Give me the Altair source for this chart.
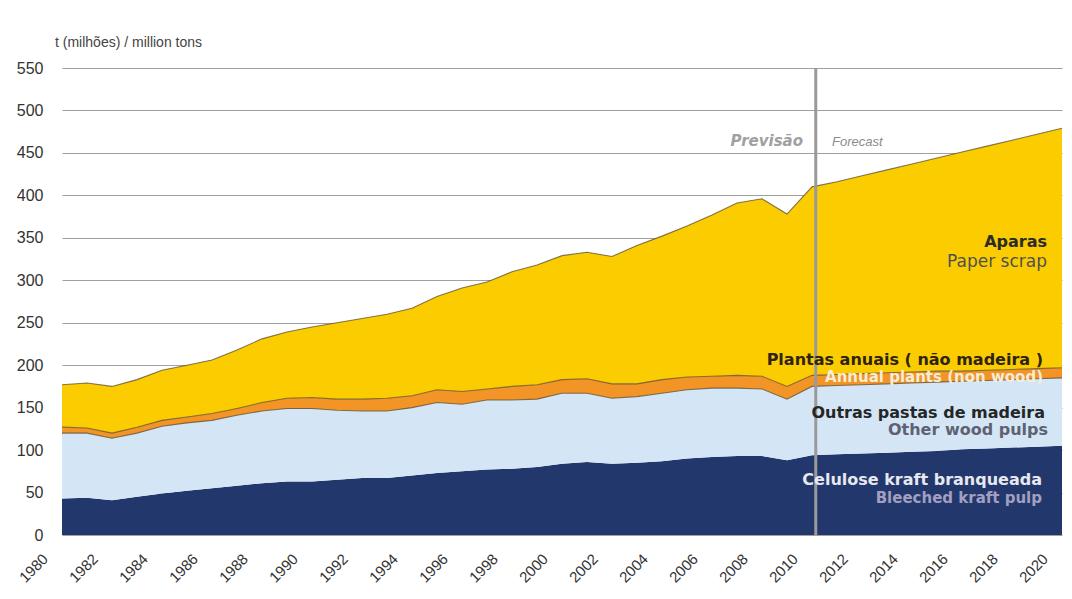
import altair as alt
import pandas as pd

years = list(range(1980, 2021))
# layer values (million tons)
kraft = [43, 44, 41, 45, 49, 52, 55, 58, 61, 63,
         63, 65, 67, 67, 70, 73, 75, 77, 78, 80,
         84, 86, 84, 85, 87, 90, 92, 93, 93, 88,
         94, 95, 96, 97, 98, 99, 101, 102, 103, 104, 105]
other = [77, 76, 73, 75, 79, 80, 80, 83, 85, 86,
         86, 82, 79, 79, 80, 83, 79, 82, 81, 80,
         83, 81, 77, 78, 80, 81, 81, 80, 79, 72,
         81, 81, 81, 81, 81, 81, 80, 80, 80, 80, 80]
annual = [7, 6, 6, 7, 7, 7, 8, 8, 10, 12,
          13, 13, 14, 15, 14, 15, 15, 13, 16, 17,
          16, 17, 17, 15, 16, 15, 14, 15, 15, 15,
          13, 13, 13, 13, 13, 13, 12, 12, 12, 12, 12]
scrap = [50, 53, 55, 56, 59, 61, 63, 69, 75, 78,
         83, 90, 95, 99, 103, 110, 122, 126, 135, 141,
         146, 149, 150, 163, 169, 178, 190, 203, 209, 203,
         222, 227, 233, 239, 245, 251, 258, 264, 270, 276, 282]

layers = ["Celulose kraft branqueada", "Outras pastas de madeira",
          "Plantas anuais", "Aparas"]
colors = ["#22386c", "#d4e6f6", "#f29426", "#fbcc00"]
series = [kraft, other, annual, scrap]

y_ticks = list(range(0, 551, 50))
x_ticks = list(range(1980, 2021, 2))
forecast_start = [2010.15]

rows = []
for i, yr in enumerate(years):
    base = 0
    for k, (name, vals) in enumerate(zip(layers, series)):
        rows.append(dict(year=yr, layer=name, order=k, lo=base, hi=base + vals[i]))
        base += vals[i]
df = pd.DataFrame(rows)

FONT = "Liberation Sans"
LFONT = "DejaVu Sans"

xscale = alt.Scale(domain=[1980, 2020], nice=False, zero=False)
yscale = alt.Scale(domain=[0, 550], nice=False)

x_axis = alt.Axis(values=x_ticks, format="d", labelAngle=-45, labelAlign="right",
                  labelBaseline="top", labelPadding=16, labelOffset=-22,
                  labelFontSize=15, labelColor="#333", labelFont=FONT,
                  domain=False, ticks=False, grid=False, title=None)
y_axis = alt.Axis(values=y_ticks, labelFontSize=16, labelColor="#333", labelFont=FONT,
                  labelPadding=19, domain=False, ticks=False, grid=True,
                  gridColor="#a0a0a0", gridWidth=1.2, title=None)


def X(field="year"):
    return alt.X(f"{field}:Q", scale=xscale, axis=x_axis)


def Y(field):
    return alt.Y(f"{field}:Q", scale=yscale, axis=y_axis)


areas = alt.Chart(df).mark_area(opacity=1).encode(
    x=X(),
    y=Y("lo"),
    y2="hi:Q",
    color=alt.Color("layer:N", scale=alt.Scale(domain=layers, range=colors), legend=None),
)

lines = alt.Chart(df[df.order > 0]).mark_line(color="#5a4c30", strokeWidth=1.1, opacity=0.75).encode(
    x=X(),
    y=Y("hi"),
    detail="layer:N",
)

rule = alt.Chart(pd.DataFrame({"year": forecast_start, "lo": [0], "hi": [550]})).mark_rule(
    color="#9a9a9a", strokeWidth=3).encode(
    x=X(),
    y=Y("lo"),
    y2="hi:Q",
)


def label(text, yr, val, size, weight, color, align="right", style="normal", font=LFONT):
    d = pd.DataFrame({"year": [yr], "val": [val], "t": [text]})
    return alt.Chart(d).mark_text(align=align, baseline="alphabetic", font=font,
                                  fontSize=size, fontWeight=weight, color=color,
                                  fontStyle=style).encode(
        x=X(),
        y=Y("val"),
        text="t:N",
    )


texts = [
    label("Aparas", 2019.4, 339, 16, "bold", "#2b2b2b"),
    label("Paper scrap", 2019.4, 316, 17, "normal", "#505050"),
    label("Plantas anuais ( não madeira )", 2019.24, 200, 16, "bold", "#2e2410"),
    label("Annual plants (non wood)", 2019.24, 180, 15, "bold", "#f6ecd8"),
    label("Outras pastas de madeira", 2019.32, 138, 16, "bold", "#262626"),
    label("Other wood pulps", 2019.44, 118, 16, "bold", "#5d6272"),
    label("Celulose kraft branqueada", 2019.2, 59, 16, "bold", "#e8e8f0"),
    label("Bleeched kraft pulp", 2019.2, 38, 15, "bold", "#a29fc0"),
    label("Previsão", 2009.64, 458, 15, "bold", "#a0a0a0", style="italic"),
    label("Forecast", 2010.8, 458, 13, "normal", "#8a8a8a", align="left", style="italic",
          font=FONT),
]

chart = alt.layer(areas, lines, rule, *texts).properties(
    width=1000,
    height=467,
    autosize=alt.AutoSizeParams(type="none"),
    padding={"left": 54, "top": 60, "right": 2, "bottom": 56},
    title=alt.TitleParams("t (milhões) / million tons", anchor="start", frame="group",
                          fontSize=14, font=FONT, color="#444", fontWeight="normal",
                          offset=10, dx=-7),
    background="white",
).configure_view(stroke=None)

chart.save("out.html", embed_options={"renderer": "svg", "actions": False})
